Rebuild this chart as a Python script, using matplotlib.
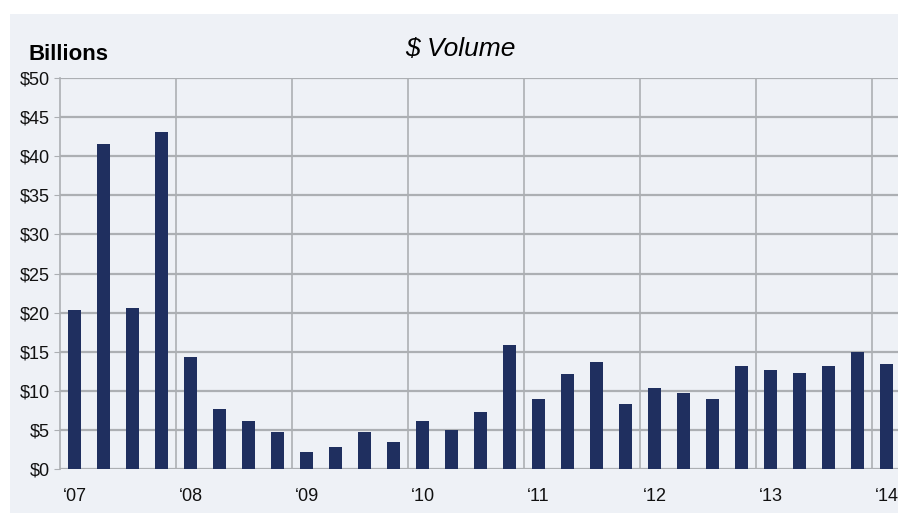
import matplotlib.pyplot as plt
from matplotlib.patches import Rectangle

plt.rcParams['font.family'] = ['Liberation Sans', 'DejaVu Sans']

BG = '#eef1f6'
BAR = '#1f2f5f'
GRID = '#acafb3'

# quarterly $ volume, billions, Q1 2007 .. Q1 2014
volume = [20.3, 41.6, 20.6, 43.1,
          14.3, 7.7, 6.1, 4.7,
          2.2, 2.8, 4.7, 3.5,
          6.1, 5.0, 7.3, 15.9,
          9.0, 12.1, 13.7, 8.3,
          10.3, 9.7, 9.0, 13.2,
          12.6, 12.3, 13.2, 14.9,
          13.4]
years = ['\u201807', '\u201808', '\u201809', '\u201810', '\u201811', '\u201812', '\u201813', '\u201814']
y_ticks = [0, 5, 10, 15, 20, 25, 30, 35, 40, 45, 50]

W, H = 898, 513
fig = plt.figure(figsize=(W / 100, H / 100), dpi=100)
fig.patch.set_facecolor('white')
fig.patches.append(Rectangle((10 / W, 0), 1, (H - 14) / H, transform=fig.transFigure,
                             facecolor=BG, edgecolor='none', zorder=-10))

ax = fig.add_axes([60 / W, (H - 469) / H, 841 / W, 391 / H])
ax.set_facecolor(BG)

x = list(range(len(volume)))
ax.bar(x, volume, width=0.48, color=BAR, zorder=3)

ax.set_xlim(-0.5, len(volume) - 0.5)
ax.set_ylim(0, 50)
ax.set_yticks(y_ticks)
ax.set_yticklabels(['$%d' % v for v in y_ticks], fontsize=13)
ax.set_xticks(list(range(0, len(volume), 4)))
ax.set_xticklabels(years, fontsize=13)

for v in y_ticks:
    ax.axhline(v, color=GRID, lw=1.6, zorder=1)
for k in range(1, len(years)):
    ax.axvline(4 * k - 0.5, color=GRID, lw=1.2, zorder=1)

for s in ['top', 'right', 'bottom']:
    ax.spines[s].set_visible(False)
ax.spines['left'].set_color(GRID)
ax.spines['left'].set_linewidth(1.2)
ax.tick_params(axis='y', length=4, color=GRID, pad=3, labelcolor='#111111')
ax.tick_params(axis='x', length=0, pad=14, labelcolor='#111111')

fig.text(28 / W, (H - 55) / H, 'Billions', fontsize=16, fontweight='bold', va='center', ha='left')
fig.text(460 / W, (H - 49) / H, '$ Volume', fontsize=19, style='italic', va='center', ha='center')

fig.savefig('out.png', dpi=100, facecolor=fig.get_facecolor())
